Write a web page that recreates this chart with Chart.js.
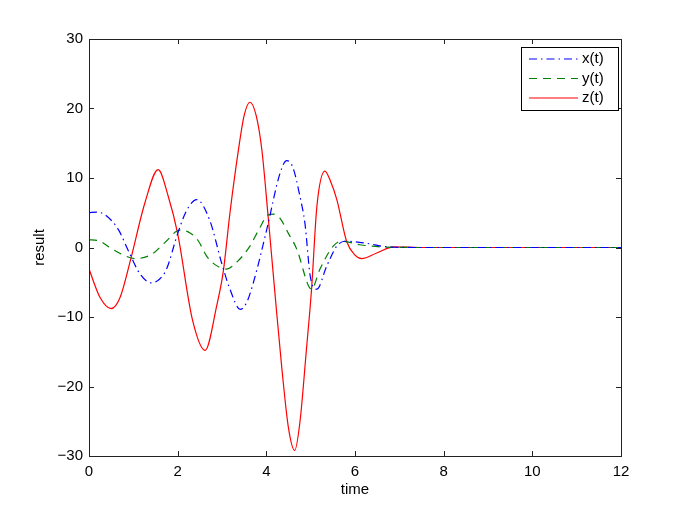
<!DOCTYPE html>
<html>
<head>
<meta charset="utf-8">
<script src="https://cdn.jsdelivr.net/npm/chart.js@4/dist/chart.umd.min.js"></script>
<style>
  html, body { margin: 0; padding: 0; background: #fff; }
  canvas { display: block; }
</style>
</head>
<body>
<canvas id="grafico" width="685" height="515"></canvas>
<script>
// datos
const seriesNames = ['x(t)', 'y(t)', 'z(t)'];

const timeX = [0, 0.17, 0.36, 0.66, 0.89, 1.15, 1.41, 1.6, 1.75, 2.0, 2.2, 2.43, 2.73, 2.99, 3.18, 3.41, 3.55, 3.71, 4.01, 4.31, 4.46, 4.6, 4.76, 4.87, 4.99, 5.14, 5.36, 5.59, 5.77, 6.26, 6.72, 7.5, 12];
const valsX = [5.0, 5.1, 4.7, 2.6, -0.5, -3.8, -5.1, -4.5, -3.1, 2.0, 5.3, 6.9, 3.8, -2.2, -6.0, -8.9, -8.0, -5.0, 2.6, 10.7, 12.5, 11.5, 7.3, 3.5, -4.1, -6.0, -2.7, 0.2, 0.9, 0.6, 0.1, 0, 0];

const timeY = [0, 0.21, 0.47, 0.75, 1.04, 1.41, 1.71, 2.05, 2.28, 2.47, 2.65, 2.85, 3.1, 3.35, 3.63, 3.85, 4.04, 4.17, 4.31, 4.5, 4.69, 4.95, 5.02, 5.21, 5.51, 5.7, 6.11, 6.56, 7.5, 12];
const valsY = [1.1, 1.0, 0, -1.0, -1.6, -1.0, 0.7, 2.5, 2.1, 0.9, -1.2, -2.5, -3.1, -2.0, 0.2, 2.8, 4.7, 4.8, 4.2, 2.0, -0.3, -5.5, -6.0, -3.1, 0.2, 0.9, 0.4, 0.1, 0, 0];

const timeZ = [0, 0.25, 0.5, 0.7, 0.94, 1.26, 1.56, 1.79, 2.0, 2.33, 2.62, 2.88, 3.03, 3.18, 3.37, 3.5, 3.63, 3.77, 3.9, 4.04, 4.2, 4.35, 4.5, 4.64, 4.76, 4.9, 5.02, 5.14, 5.32, 5.45, 5.59, 5.81, 6.0, 6.15, 6.49, 6.87, 7.5, 12];
const valsZ = [-3.1, -7.2, -8.8, -7.2, -1.7, 6.4, 11.2, 7.3, 2.0, -10.3, -14.8, -8.4, -3.4, 5.0, 14.0, 19.0, 20.9, 19.0, 14.0, 4.5, -7.0, -17.4, -26.0, -29.2, -25.0, -15.0, -6.0, 5.9, 11.0, 9.5, 6.9, 0.9, -1.1, -1.6, -0.8, 0.1, 0, 0];

const xTicks = [0, 2, 4, 6, 8, 10, 12];
const yTicks = [-30, -20, -10, 0, 10, 20, 30];

const colores = ['#0000ff', '#008000', '#ff0000'];
const guiones = [[8, 4, 1.5, 4], [8, 6], []];
const fuente = '"Liberation Sans", Arial, sans-serif';

function pares(ts, vs) {
    return ts.map((t, i) => ({ x: t, y: vs[i] }));
}

const datos = [pares(timeX, valsX), pares(timeY, valsY), pares(timeZ, valsZ)];

// marco, marcas hacia dentro y leyenda estilo matlab
const marcoPlugin = {
    id: 'marco',
    afterDraw(chart) {
        const ctx = chart.ctx;
        const a = chart.chartArea;
        const sx = chart.scales.x;
        const sy = chart.scales.y;
        ctx.save();
        ctx.strokeStyle = '#222';
        ctx.lineWidth = 1;
        ctx.setLineDash([]);
        ctx.strokeRect(Math.round(a.left) + 0.5, Math.round(a.top) + 0.5,
            Math.round(a.right - a.left), Math.round(a.bottom - a.top));
        ctx.beginPath();
        xTicks.forEach(v => {
            const px = Math.round(sx.getPixelForValue(v)) + 0.5;
            ctx.moveTo(px, a.bottom);
            ctx.lineTo(px, a.bottom - 5);
            ctx.moveTo(px, a.top);
            ctx.lineTo(px, a.top + 5);
        });
        yTicks.forEach(v => {
            const py = Math.round(sy.getPixelForValue(v)) + 0.5;
            ctx.moveTo(a.left, py);
            ctx.lineTo(a.left + 5, py);
            ctx.moveTo(a.right, py);
            ctx.lineTo(a.right - 5, py);
        });
        ctx.stroke();

        // leyenda
        const lx = a.right - 100, ly = a.top + 8, lw = 97, lh = 63;
        ctx.fillStyle = '#fff';
        ctx.fillRect(lx, ly, lw, lh);
        ctx.strokeStyle = '#000';
        ctx.strokeRect(lx + 0.5, ly + 0.5, lw, lh);
        ctx.font = '15px ' + fuente;
        ctx.textBaseline = 'middle';
        seriesNames.forEach((nombre, i) => {
            const y = ly + 12 + i * 19.5;
            ctx.strokeStyle = colores[i];
            ctx.lineWidth = 1.2;
            ctx.setLineDash(guiones[i]);
            ctx.beginPath();
            ctx.moveTo(lx + 8, y);
            ctx.lineTo(lx + 57, y);
            ctx.stroke();
            ctx.setLineDash([]);
            ctx.fillStyle = '#000';
            ctx.fillText(nombre, lx + 61, y);
        });
        ctx.restore();
    }
};

const ctx = document.getElementById('grafico').getContext('2d');
const myChart = new Chart(ctx, {
    type: 'line',
    data: {
        datasets: seriesNames.map((nombre, i) => ({
            label: nombre,
            data: datos[i],
            borderColor: colores[i],
            borderDash: guiones[i],
            borderWidth: 1.2,
            pointRadius: 0,
            fill: false,
            cubicInterpolationMode: 'monotone'
        }))
    },
    options: {
        responsive: false,
        animation: false,
        layout: { padding: { left: 0, top: 39, right: 64, bottom: 0 } },
        plugins: {
            legend: { display: false },
            tooltip: { enabled: false }
        },
        scales: {
            x: {
                type: 'linear',
                min: 0,
                max: 12,
                afterFit: s => { s.height = 59; },
                afterBuildTicks: s => { s.ticks = xTicks.map(v => ({ value: v })); },
                grid: { display: false, drawTicks: false },
                border: { display: false },
                ticks: { color: '#000', padding: 7, maxRotation: 0, font: { family: fuente, size: 15 } },
                title: { display: true, text: 'time', color: '#000', padding: { top: 0, bottom: 16 }, font: { family: fuente, size: 15 } }
            },
            y: {
                type: 'linear',
                min: -30,
                max: 30,
                afterFit: s => { s.width = 89; },
                afterBuildTicks: s => { s.ticks = yTicks.map(v => ({ value: v })); },
                grid: { display: false, drawTicks: false },
                border: { display: false },
                ticks: {
                    color: '#000',
                    padding: 6,
                    font: { family: fuente, size: 15 },
                    callback: v => String(v).replace('-', '\u2212')
                },
                title: { display: true, text: 'result', color: '#000', padding: { top: 31, bottom: 0 }, font: { family: fuente, size: 15 } }
            }
        }
    },
    plugins: [marcoPlugin]
});
</script>
</body>
</html>
